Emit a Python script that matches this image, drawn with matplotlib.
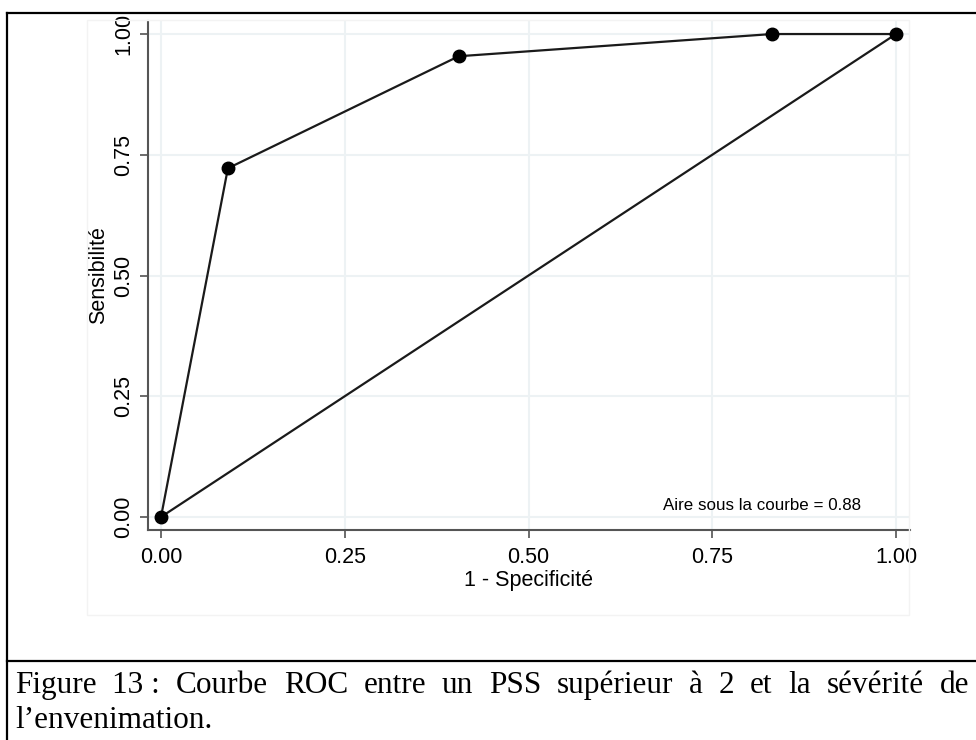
import matplotlib
matplotlib.use('Agg')
import matplotlib.pyplot as plt
from matplotlib.lines import Line2D
from matplotlib.patches import Rectangle

# roc points (1 - specificite, sensibilite)
fpr = [0.0, 0.091, 0.405, 0.831, 1.0]
tpr = [0.0, 0.722, 0.954, 1.0, 1.0]
ref_line = [0.0, 1.0]
ticks = [0.0, 0.25, 0.5, 0.75, 1.0]
tick_labels = ['0.00', '0.25', '0.50', '0.75', '1.00']
auc = 0.88

caption_1 = "Figure 13\u00a0: Courbe ROC entre un PSS supérieur à 2 et la sévérité de"
caption_2 = "l\u2019envenimation."

plt.rcParams['font.family'] = ['Liberation Sans', 'DejaVu Sans']

fig = plt.figure(figsize=(9.76, 7.40), dpi=100)
W, H = 976, 740

# faint graph region box
fig.patches.append(Rectangle((87 / W, 1 - 615 / H), (909 - 87) / W, (615 - 20) / H,
                             transform=fig.transFigure, fill=False,
                             edgecolor='#f3f3f3', linewidth=1))

ax = fig.add_axes([148 / W, 1 - 530 / H, (910 - 148) / W, (530 - 21) / H])
ax.set_xlim(-0.0177, 1.019)
ax.set_ylim(-0.027, 1.027)

ax.plot(ref_line, ref_line, color='#1a1a1a', linewidth=1.6, zorder=3)
ax.plot(fpr, tpr, color='#1a1a1a', linewidth=1.6, marker='o', markersize=9,
        markerfacecolor='black', markeredgecolor='black', zorder=4)

ax.set_xticks(ticks)
ax.set_xticklabels(tick_labels)
ax.set_yticks(ticks)
ax.set_yticklabels(tick_labels, rotation=90, va='center')
ax.tick_params(axis='both', labelsize=15.5, length=6, width=1.1, color='#444444')
ax.tick_params(axis='x', pad=6)
ax.tick_params(axis='y', pad=4)
ax.grid(True, color='#edf2f4', linewidth=1.5)
ax.set_axisbelow(True)

for side in ['top', 'right']:
    ax.spines[side].set_visible(False)
for side in ['left', 'bottom']:
    ax.spines[side].set_color('#555555')
    ax.spines[side].set_linewidth(1.5)

ax.set_xlabel('1 - Specificité', fontsize=15.5, labelpad=2)
ax.set_ylabel('Sensibilité', fontsize=15.5, labelpad=3)

ax.text(0.818, 0.023, 'Aire sous la courbe = %.2f' % auc, fontsize=12.2,
        ha='center', va='center')

# table borders around figure and caption
for xs, ys in [([7, 7], [13, H]), ([7, W], [13, 13]), ([7, W], [661, 661])]:
    fig.add_artist(Line2D([x / W for x in xs], [1 - y / H for y in ys],
                          transform=fig.transFigure, color='black', linewidth=1.6))

# justified first caption line, second line left aligned
serif = dict(family='Liberation Serif', fontsize=22.5)
renderer = fig.canvas.get_renderer()
words = caption_1.split(' ')
items = []
total = 0
for w in words:
    t = fig.text(0, 1 - 693 / H, w, ha='left', va='baseline', **serif)
    width = t.get_window_extent(renderer).width
    items.append((t, width))
    total += width
x0, x1 = 15, 969
gap = (x1 - x0 - total) / (len(words) - 1)
x = x0
for t, width in items:
    t.set_x(x / W)
    x += width + gap
fig.text(15 / W, 1 - 728 / H, caption_2, ha='left', va='baseline', **serif)

fig.savefig('out.png', dpi=100)
